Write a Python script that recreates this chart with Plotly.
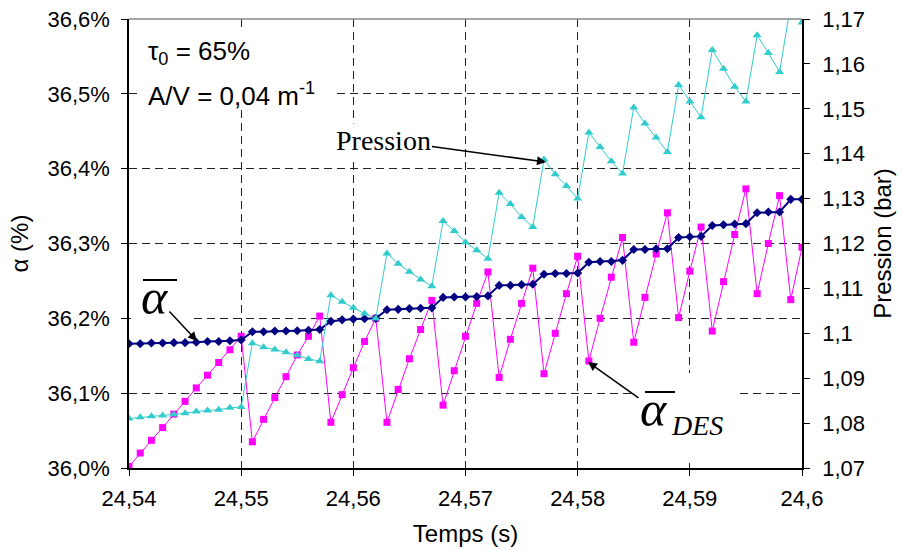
import plotly.graph_objects as go

# ---------------- data ----------------
temps = [24.540, 24.541, 24.542, 24.543, 24.544, 24.545, 24.546, 24.547, 24.548, 24.549,
         24.550, 24.551, 24.552, 24.553, 24.554, 24.555, 24.556, 24.557, 24.558, 24.559,
         24.560, 24.561, 24.562, 24.563, 24.564, 24.565, 24.566, 24.567, 24.568, 24.569,
         24.570, 24.571, 24.572, 24.573, 24.574, 24.575, 24.576, 24.577, 24.578, 24.579,
         24.580, 24.581, 24.582, 24.583, 24.584, 24.585, 24.586, 24.587, 24.588, 24.589,
         24.590, 24.591, 24.592, 24.593, 24.594, 24.595, 24.596, 24.597, 24.598, 24.599,
         24.600]

alpha_moy = [36.166, 36.166, 36.167, 36.167, 36.1675, 36.1675, 36.168, 36.169, 36.169, 36.170, 36.171,
             36.182, 36.182, 36.183, 36.183, 36.1835, 36.184, 36.185,
             36.196, 36.198, 36.199, 36.1995, 36.200,
             36.2115, 36.212, 36.213, 36.2135, 36.214,
             36.228, 36.2285, 36.2285, 36.229, 36.230,
             36.244, 36.244, 36.245, 36.2455,
             36.259, 36.260, 36.260, 36.2605,
             36.275, 36.276, 36.276, 36.2775,
             36.292, 36.292, 36.293, 36.293,
             36.308, 36.309, 36.3095,
             36.324, 36.325, 36.326, 36.3265,
             36.341, 36.342, 36.342,
             36.359, 36.359]

alpha_des = [36.002, 36.020, 36.037, 36.054, 36.072, 36.089, 36.107, 36.124, 36.141, 36.158, 36.176,
             36.035, 36.065, 36.094, 36.122, 36.151, 36.176, 36.203,
             36.061, 36.098, 36.134, 36.169, 36.200,
             36.061, 36.105, 36.146, 36.185, 36.224,
             36.084, 36.130, 36.176, 36.220, 36.262,
             36.121, 36.172, 36.220, 36.267,
             36.126, 36.180, 36.233, 36.283,
             36.143, 36.200, 36.255, 36.308,
             36.168, 36.228, 36.286, 36.341,
             36.201, 36.263, 36.322,
             36.183, 36.249, 36.312, 36.373,
             36.233, 36.300, 36.364,
             36.225, 36.295]

pression = [1.0810, 1.0813, 1.0815, 1.0817, 1.0819, 1.0822, 1.0826, 1.0828, 1.0830, 1.0834, 1.0836,
            1.0978, 1.0969, 1.0964, 1.0958, 1.0951, 1.0943, 1.0938,
            1.1085, 1.1070, 1.1057, 1.1044, 1.1033,
            1.1178, 1.1155, 1.1137, 1.1120, 1.1105,
            1.1250, 1.1228, 1.1203, 1.1185, 1.1166,
            1.1313, 1.1288, 1.1259, 1.1237,
            1.1387, 1.1354, 1.1328, 1.1300,
            1.1447, 1.1415, 1.1383, 1.1356,
            1.1503, 1.1467, 1.1436, 1.1404,
            1.1553, 1.1516, 1.1481,
            1.1631, 1.1589, 1.1549, 1.1516,
            1.1664, 1.1624, 1.1582,
            1.1733, 1.1692]

x_ticks = [24.54, 24.55, 24.56, 24.57, 24.58, 24.59, 24.60]
x_ticktext = ["24,54", "24,55", "24,56", "24,57", "24,58", "24,59", "24,6"]
y_ticks = [36.0, 36.1, 36.2, 36.3, 36.4, 36.5, 36.6]
y_ticktext = ["36,0%", "36,1%", "36,2%", "36,3%", "36,4%", "36,5%", "36,6%"]
y2_ticks = [1.07, 1.08, 1.09, 1.10, 1.11, 1.12, 1.13, 1.14, 1.15, 1.16, 1.17]
y2_ticktext = ["1,07", "1,08", "1,09", "1,1", "1,11", "1,12", "1,13", "1,14", "1,15", "1,16", "1,17"]

# ---------------- layout helpers ----------------
W, H = 902, 550
L, R, T, B = 129, 100, 19, 82
PW, PH = W - L - R, H - T - B


def px(x):
    return (x - L) / PW


def py(y):
    return (H - B - y) / PH


SANS = "Liberation Sans, Arial, sans-serif"
SERIF = "Liberation Serif, Times New Roman, serif"

fig = go.Figure()

fig.add_trace(go.Scatter(
    x=temps, y=alpha_des, mode="lines+markers", name="alpha DES",
    line=dict(color="#FF00FF", width=1),
    marker=dict(symbol="square", size=7, color="#FF00FF"),
))
fig.add_trace(go.Scatter(
    x=temps, y=alpha_moy, mode="lines+markers", name="alpha moyen",
    line=dict(color="#000080", width=2),
    marker=dict(symbol="diamond", size=7, color="#000080"),
))
fig.add_trace(go.Scatter(
    x=temps, y=pression, mode="lines+markers", name="Pression", yaxis="y2",
    line=dict(color="#33CCCC", width=1),
    marker=dict(symbol="triangle-up", size=8, color="#33CCCC"),
))

grid = dict(showgrid=True, gridcolor="#222222", gridwidth=1, griddash="8px,5px")

fig.update_layout(
    width=W, height=H,
    margin=dict(l=L, r=R, t=T, b=B, autoexpand=False),
    paper_bgcolor="white", plot_bgcolor="white",
    showlegend=False,
    font=dict(family=SANS, color="black", size=22),
    xaxis=dict(
        range=[24.54, 24.60], tickvals=x_ticks, ticktext=x_ticktext,
        showline=True, linecolor="black", linewidth=1.5, ticks="outside", ticklen=6,
        tickcolor="black", zeroline=False, tickfont=dict(size=22), ticklabelstandoff=4,
        title=dict(text="Temps (s)", font=dict(size=24), standoff=15),
        **grid,
    ),
    yaxis=dict(
        range=[36.0, 36.6], tickvals=y_ticks, ticktext=y_ticktext,
        showline=True, linecolor="black", linewidth=1.5, ticks="outside", ticklen=6,
        tickcolor="black", zeroline=False, tickfont=dict(size=22), ticklabelstandoff=7,
        title=dict(text="α (%)", font=dict(size=24), standoff=12),
        **grid,
    ),
    yaxis2=dict(
        range=[1.07, 1.17], tickvals=y2_ticks, ticktext=y2_ticktext,
        overlaying="y", side="right", showgrid=False, zeroline=False,
        showline=True, linecolor="black", linewidth=1.5, ticks="outside", ticklen=6,
        tickcolor="black", tickfont=dict(size=22), ticklabelstandoff=8,
        title=dict(text="Pression (bar)", font=dict(size=24), standoff=10),
    ),
)

# white boxes behind the labels (areas without data) hiding the grid
for (x0, y0, x1, y1) in [(140, 32, 333, 106), (131, 276, 192, 321), (632, 373, 735, 463)]:
    fig.add_shape(type="rect", xref="paper", yref="paper", layer="above",
                  x0=px(x0), x1=px(x1), y0=py(y1), y1=py(y0),
                  fillcolor="white", line=dict(width=0))

# top border of the plot area (grey)
fig.add_shape(type="line", xref="paper", yref="paper", x0=0, x1=1, y0=1, y1=1,
              line=dict(color="#888888", width=1.5))

# text annotations
fig.add_annotation(xref="paper", yref="paper", x=px(146), y=py(53), xanchor="left", yanchor="middle",
                   text="τ<sub>0</sub> = 65%", showarrow=False,
                   font=dict(family=SANS, size=26))
fig.add_annotation(xref="paper", yref="paper", x=px(146), y=py(94), xanchor="left", yanchor="middle",
                   text="A/V = 0,04 m<sup>-1</sup>", showarrow=False,
                   font=dict(family=SANS, size=26))
fig.add_annotation(xref="paper", yref="paper", axref="pixel", ayref="pixel",
                   x=px(546), y=py(162), ax=383 - 546, ay=140 - 162,
                   text="Pression", showarrow=True, bgcolor="white",
                   arrowhead=2, arrowsize=1.2, arrowwidth=1.5, arrowcolor="black", standoff=0,
                   font=dict(family=SERIF, size=28))

# alpha moyen label
fig.add_annotation(xref="paper", yref="paper", x=px(155), y=py(297), xanchor="center", yanchor="middle",
                   text="<i>α</i>", showarrow=False,
                   font=dict(family=SERIF, size=50))
fig.add_shape(type="line", xref="paper", yref="paper", x0=px(143), x1=px(177), y0=py(280), y1=py(280),
              line=dict(color="black", width=2))
fig.add_annotation(xref="paper", yref="paper", axref="pixel", ayref="pixel",
                   x=px(197), y=py(341), ax=168 - 197, ay=310 - 341,
                   text="", showarrow=True,
                   arrowhead=2, arrowsize=1.2, arrowwidth=1.5, arrowcolor="black", standoff=0)

# alpha DES label
fig.add_annotation(xref="paper", yref="paper", axref="pixel", ayref="pixel",
                   x=px(588), y=py(362), ax=654 - 588, ay=409 - 362,
                   text="<i>α</i>", showarrow=True,
                   arrowhead=2, arrowsize=1.2, arrowwidth=1.5, arrowcolor="black", standoff=0,
                   font=dict(family=SERIF, size=50))
fig.add_annotation(xref="paper", yref="paper", x=px(697), y=py(425), xanchor="center", yanchor="middle",
                   text="<i>DES</i>", showarrow=False,
                   font=dict(family=SERIF, size=28))
fig.add_shape(type="line", xref="paper", yref="paper", x0=px(645), x1=px(675), y0=py(392), y1=py(392),
              line=dict(color="black", width=2))

fig.write_html("out.html", config={"displayModeBar": False},
               post_script="document.body.style.margin='0';")
